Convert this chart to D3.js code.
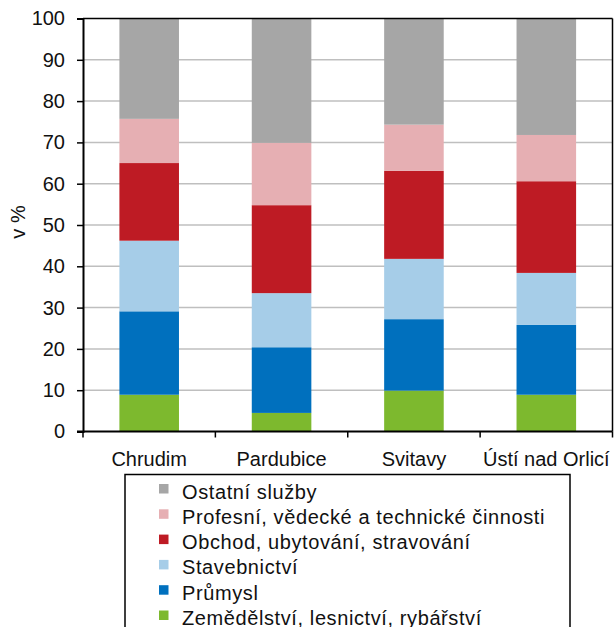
<!DOCTYPE html>
<html>
<head>
<meta charset="utf-8">
<script src="https://cdn.jsdelivr.net/npm/d3@7"></script>
<style>
  html, body { margin: 0; padding: 0; background: #fff; }
  svg { display: block; font-family: "Liberation Sans", Arial, sans-serif; }
</style>
</head>
<body>
<svg id="chart" width="614" height="627"></svg>
<script>
const categories = ["Chrudim", "Pardubice", "Svitavy", "Ústí nad Orlicí"];
const seriesNames = [
  "Zemědělství, lesnictví, rybářství",
  "Průmysl",
  "Stavebnictví",
  "Obchod, ubytování, stravování",
  "Profesní, vědecké a technické činnosti",
  "Ostatní služby"
];
const zemedelstvi = [8.9, 4.5, 9.9, 8.9];
const prumysl     = [20.2, 15.9, 17.3, 16.9];
const stavebnictvi = [17.1, 13.1, 14.6, 12.6];
const obchod      = [18.8, 21.3, 21.3, 22.2];
const profesni    = [10.7, 15.1, 11.2, 11.2];
const ostatni     = [24.3, 30.1, 25.7, 28.2];
const yTicks = [0, 10, 20, 30, 40, 50, 60, 70, 80, 90, 100];
const colors = ["#7DB92E", "#0070BE", "#A6CDE8", "#BE1B24", "#E6AFB3", "#A6A6A6"];

const seriesValues = [zemedelstvi, prumysl, stavebnictvi, obchod, profesni, ostatni];
const table = categories.map((c, i) => {
  const row = { cat: c };
  seriesNames.forEach((s, j) => row[s] = seriesValues[j][i]);
  return row;
});

const svg = d3.select("#chart");
const L = 83, R = 612.5, T = 18.5, B = 431.5;

const x = d3.scaleBand().domain(categories).range([L, R]).paddingInner(0.55).paddingOuter(0.275);
const xb = d3.scaleBand().domain(categories).range([L, R]).padding(0);
const y = d3.scaleLinear().domain([0, 100]).range([B, T]);

// gridlines
svg.append("g").selectAll("line").data(yTicks.filter(t => t > 0 && t < 100)).join("line")
  .attr("x1", L).attr("x2", R)
  .attr("y1", d => y(d)).attr("y2", d => y(d))
  .attr("stroke", "#BFBFBF").attr("stroke-width", 1.5);

// bars
const stack = d3.stack().keys(seriesNames)(table);
svg.append("g").selectAll("g").data(stack).join("g")
  .attr("fill", (d, i) => colors[i])
  .selectAll("rect").data(d => d).join("rect")
  .attr("x", d => x(d.data.cat))
  .attr("width", x.bandwidth())
  .attr("y", d => y(d[1]))
  .attr("height", d => y(d[0]) - y(d[1]));

// frame top & right
svg.append("line").attr("x1", L).attr("x2", R).attr("y1", T).attr("y2", T)
  .attr("stroke", "#000").attr("stroke-width", 1.5);
svg.append("line").attr("x1", R).attr("x2", R).attr("y1", T).attr("y2", B)
  .attr("stroke", "#000").attr("stroke-width", 1.5);

// y axis
const yAxis = svg.append("g").attr("transform", `translate(${L},0)`)
  .call(d3.axisLeft(y).tickValues(yTicks).tickSize(6).tickPadding(12));
yAxis.select(".domain").attr("stroke", "#000").attr("stroke-width", 2);
yAxis.selectAll(".tick line").attr("stroke", "#000").attr("stroke-width", 1.5);
yAxis.selectAll("text").attr("font-size", 20).attr("fill", "#111")
  .attr("font-family", "'Liberation Sans', Arial, sans-serif");

// x axis
const xAxisG = svg.append("g").attr("transform", `translate(0,${B})`);
xAxisG.append("line").attr("x1", L - 6).attr("x2", R).attr("y1", 0).attr("y2", 0)
  .attr("stroke", "#000").attr("stroke-width", 2);
const bounds = categories.map(c => xb(c)).concat([xb(categories[categories.length - 1]) + xb.bandwidth()]);
xAxisG.selectAll("line.tk").data(bounds).join("line").attr("class", "tk")
  .attr("x1", d => d).attr("x2", d => d).attr("y1", 0).attr("y2", 6)
  .attr("stroke", "#000").attr("stroke-width", 1.5);
xAxisG.selectAll("text").data(categories).join("text")
  .attr("x", d => xb(d) + xb.bandwidth() / 2)
  .attr("y", 34)
  .attr("text-anchor", "middle")
  .attr("font-size", 20).attr("fill", "#111")
  .text(d => d);

// y title
svg.append("text")
  .attr("transform", "translate(25,222) rotate(-90)")
  .attr("text-anchor", "middle")
  .attr("font-size", 20).attr("fill", "#111")
  .text("v %");

// legend
const lg = svg.append("g");
lg.append("rect").attr("x", 125).attr("y", 474.5).attr("width", 445).attr("height", 170)
  .attr("fill", "#fff").attr("stroke", "#000").attr("stroke-width", 1.5);
const legendItems = seriesNames.map((s, i) => ({ name: s, color: colors[i] })).reverse();
const li = lg.selectAll("g.li").data(legendItems).join("g").attr("class", "li")
  .attr("transform", (d, i) => `translate(159,${489.5 + i * 25.3})`);
li.append("rect").attr("x", 0).attr("y", -5.5).attr("width", 9.5).attr("height", 9.5)
  .attr("fill", d => d.color);
li.append("text").attr("x", 23).attr("y", 9)
  .attr("font-size", 20).attr("letter-spacing", 0.6).attr("fill", "#111")
  .text(d => d.name);
</script>
</body>
</html>
